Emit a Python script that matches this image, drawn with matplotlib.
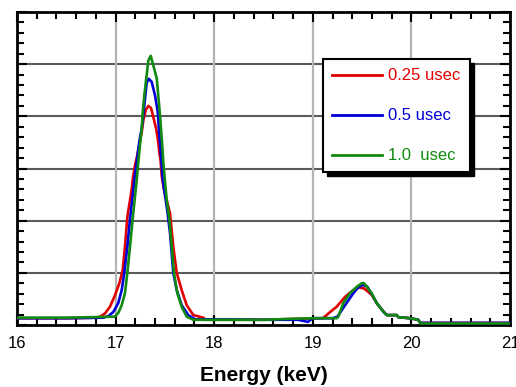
import matplotlib
matplotlib.use("Agg")
import matplotlib.pyplot as plt
from matplotlib.patches import Rectangle
from matplotlib.lines import Line2D
from matplotlib.ticker import MultipleLocator, NullFormatter

plt.rcParams['font.family'] = ['Liberation Sans', 'DejaVu Sans']

labels = ["0.25 usec", "0.5 usec", "1.0  usec"]
colors = ["#e00000", "#0000d8", "#108a10"]

energy_025 = [16.0, 16.5, 16.80, 16.842, 16.892, 16.943, 16.994, 17.038, 17.072, 17.095, 17.119,
              17.163, 17.173, 17.197, 17.214, 17.240, 17.265, 17.282, 17.306, 17.332, 17.359,
              17.382, 17.41, 17.427, 17.443, 17.457, 17.468, 17.49, 17.552, 17.585, 17.62,
              17.67, 17.721, 17.788, 17.889, 17.917, 18.5, 18.9, 19.0, 19.1, 19.141, 19.157,
              19.242, 19.327, 19.411, 19.47, 19.52, 19.597, 19.648, 19.715, 19.75, 19.851,
              19.867, 19.986, 20.07, 20.09, 20.5, 21.0]
counts_025 = [0.13, 0.13, 0.14, 0.16, 0.22, 0.35, 0.57, 0.80, 1.05, 1.50, 2.07,
              2.60, 2.78, 3.07, 3.20, 3.45, 3.70, 3.93, 4.12, 4.20, 4.16,
              3.99, 3.77, 3.58, 3.32, 3.13, 2.85, 2.60, 2.14, 1.50, 1.00,
              0.67, 0.38, 0.19, 0.14, 0.10, 0.10, 0.12, 0.13, 0.13, 0.19, 0.22,
              0.35, 0.54, 0.67, 0.72, 0.70, 0.58, 0.42, 0.26, 0.19, 0.19,
              0.15, 0.13, 0.10, 0.04, 0.04, 0.04]

energy_05 = [16.0, 16.5, 16.875, 16.926, 16.977, 17.027, 17.062, 17.088, 17.119, 17.146,
             17.18, 17.197, 17.214, 17.24, 17.265, 17.291, 17.315, 17.336, 17.366, 17.40,
             17.427, 17.443, 17.46, 17.478, 17.50, 17.524, 17.552, 17.585, 17.62, 17.67,
             17.737, 17.805, 18.5, 18.85, 18.95, 19.0, 19.2, 19.25, 19.32, 19.40, 19.45,
             19.50, 19.55, 19.597, 19.648, 19.715, 19.75, 19.851, 19.867, 19.986, 20.07,
             20.09, 20.5, 21.0]
counts_05 = [0.13, 0.13, 0.14, 0.17, 0.25, 0.42, 0.67, 1.00, 1.50, 2.03,
             2.60, 2.90, 3.12, 3.51, 3.77, 4.21, 4.64, 4.72, 4.66, 4.40,
             4.09, 3.64, 3.26, 2.80, 2.50, 2.20, 1.76, 1.00, 0.67, 0.38,
             0.19, 0.11, 0.10, 0.10, 0.06, 0.13, 0.13, 0.16, 0.36, 0.58, 0.70,
             0.77, 0.74, 0.60, 0.42, 0.26, 0.19, 0.19, 0.15, 0.13, 0.10,
             0.04, 0.04, 0.04]

energy_10 = [16.0, 16.5, 16.99, 17.027, 17.062, 17.095, 17.119, 17.146, 17.173, 17.214,
             17.230, 17.247, 17.265, 17.275, 17.291, 17.315, 17.332, 17.356, 17.382,
             17.417, 17.433, 17.450, 17.468, 17.484, 17.50, 17.518, 17.545, 17.569,
             17.592, 17.626, 17.670, 17.721, 17.788, 18.5, 18.8, 19.0, 19.242, 19.259,
             19.309, 19.377, 19.445, 19.496, 19.52, 19.597, 19.648, 19.715, 19.75, 19.851,
             19.867, 19.986, 20.07, 20.09, 20.5, 21.0]
counts_10 = [0.14, 0.14, 0.16, 0.23, 0.38, 0.61, 1.00, 1.50, 2.03, 2.78,
             3.12, 3.45, 3.77, 4.08, 4.40, 4.79, 5.07, 5.16, 4.98,
             4.73, 4.40, 4.02, 3.58, 3.12, 2.78, 2.40, 2.03, 1.50,
             1.00, 0.61, 0.35, 0.16, 0.10, 0.10, 0.12, 0.13, 0.13, 0.16,
             0.42, 0.61, 0.73, 0.80, 0.80, 0.61, 0.42, 0.26, 0.19, 0.19,
             0.15, 0.13, 0.10, 0.03, 0.03, 0.03]

x_ticks = [16, 17, 18, 19, 20, 21]
x_ticklabels = ["16", "17", "18", "19", "20", "21"]

W, H = 516, 387
fig = plt.figure(figsize=(W / 100, H / 100), dpi=100)
ax = fig.add_axes([17 / W, 1 - 325 / H, (510 - 17) / W, (325 - 12) / H])

for e, c, col in zip([energy_025, energy_05, energy_10],
                     [counts_025, counts_05, counts_10], colors):
    ax.plot(e, c, color=col, lw=1.9, zorder=3, solid_joinstyle='round')

ax.set_xlim(16, 21)
ax.set_ylim(0, 6)
ax.set_xticks(x_ticks)
ax.set_xticklabels(x_ticklabels, fontsize=12)
ax.xaxis.set_minor_locator(MultipleLocator(0.2))
ax.yaxis.set_major_locator(MultipleLocator(1))
ax.yaxis.set_minor_locator(MultipleLocator(0.2))
ax.yaxis.set_major_formatter(NullFormatter())

for y in [1, 2, 3, 4, 5]:
    ax.axhline(y, color="#5a5a5a", lw=1.5, zorder=1)
for x in [17, 18, 19, 20]:
    ax.axvline(x, color="#b4b4b4", lw=1.6, zorder=1)

ax.tick_params(which='both', direction='in', top=True, right=True, width=1.5, color='black')
ax.tick_params(which='major', length=7, pad=8)
ax.tick_params(which='minor', length=5)
for s in ax.spines.values():
    s.set_linewidth(2)

ax.set_xlabel("Energy (keV)", fontsize=15, fontweight='bold', labelpad=11)

# legend box with solid shadow (drawn in figure pixel coordinates)
def px(x, y):
    return x / W, 1 - y / H

bx0, by0, bx1, by1 = 323, 59, 470, 172
sx, sy = px(bx0 + 4, by1 + 4)
fig.add_artist(Rectangle((sx, sy), (bx1 - bx0) / W, (by1 - by0) / H,
                         transform=fig.transFigure, facecolor='black', edgecolor='black', zorder=5))
lx, ly = px(bx0, by1)
fig.add_artist(Rectangle((lx, ly), (bx1 - bx0) / W, (by1 - by0) / H,
                         transform=fig.transFigure, facecolor='white', edgecolor='black', lw=1.5, zorder=6))
for i, (lab, col) in enumerate(zip(labels, colors)):
    yy = 75 + 40 * i
    x0, y0 = px(332, yy)
    x1, _ = px(382, yy)
    fig.add_artist(Line2D([x0, x1], [y0, y0], color=col, lw=2, transform=fig.transFigure, zorder=7))
    tx, ty = px(388, yy)
    fig.text(tx, ty, lab, color=col, fontsize=12, ha='left', va='center', zorder=7)

fig.savefig("out.png", dpi=100)
